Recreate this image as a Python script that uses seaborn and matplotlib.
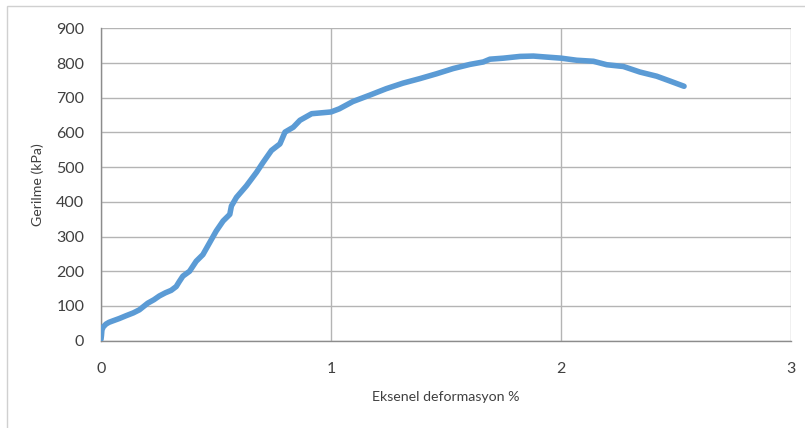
import matplotlib
matplotlib.use("Agg")
import matplotlib.pyplot as plt
from matplotlib.patches import Rectangle
import seaborn as sns
import pandas as pd

# Axial strain (%) and stress (kPa)
strain = [0.000, 0.002, 0.004, 0.010, 0.022, 0.035, 0.051, 0.080, 0.109, 0.140, 0.167, 0.203,
          0.230, 0.254, 0.280, 0.305, 0.327, 0.340, 0.356, 0.385, 0.414, 0.443, 0.472, 0.501,
          0.531, 0.560, 0.567, 0.589, 0.632, 0.676, 0.705, 0.741, 0.778, 0.800, 0.836, 0.865,
          0.916, 0.967, 1.000, 1.036, 1.095, 1.167, 1.240, 1.313, 1.386, 1.459, 1.531, 1.604,
          1.662, 1.691, 1.750, 1.822, 1.880, 1.939, 2.000, 2.068, 2.141, 2.199, 2.271, 2.343,
          2.416, 2.474, 2.535]
stress = [4, 15, 31, 40, 48, 53, 57, 64, 72, 80, 89, 108,
          118, 129, 138, 145, 156, 170, 186, 200, 229, 248, 282, 316,
          345, 364, 388, 413, 446, 485, 514, 548, 567, 601, 615, 635,
          654, 657, 659, 668, 689, 707, 726, 742, 755, 769, 784, 796,
          803, 811, 814, 819, 820, 817, 814, 808, 805, 795, 790, 774,
          762, 748, 733]

x_ticks = [0, 1, 2, 3]
y_ticks = [0, 100, 200, 300, 400, 500, 600, 700, 800, 900]
x_label = "Eksenel deformasyon %"
y_label = "Gerilme (kPa)"

sns.set_style("white")
plt.rcParams["font.family"] = ["Lato", "DejaVu Sans"]

df = pd.DataFrame({"strain": strain, "stress": stress})

fig = plt.figure(figsize=(8.05, 4.28), dpi=100)
ax = fig.add_axes([101 / 805, 1 - 340.7 / 428, 690 / 805, (340.7 - 28.3) / 428])

sns.lineplot(data=df, x="strain", y="stress", ax=ax, color="#5B9BD5",
             linewidth=4.0, solid_capstyle="round", solid_joinstyle="round",
             sort=False, zorder=3)

ax.set_xlim(0, 3)
ax.set_ylim(0, 900)
ax.set_xticks(x_ticks)
ax.set_yticks(y_ticks)
ax.set_xticklabels([str(t) for t in x_ticks])
ax.set_yticklabels([str(t) for t in y_ticks])
ax.grid(True, color="#B4B4B4", linewidth=1.0)
ax.set_axisbelow(True)

for s in ["top", "right"]:
    ax.spines[s].set_visible(False)
for s in ["left", "bottom"]:
    ax.spines[s].set_visible(True)
    ax.spines[s].set_color("#8C8C8C")
    ax.spines[s].set_linewidth(1.0)

ax.tick_params(axis="both", which="major", direction="out", length=5, width=1,
               color="#8C8C8C", labelsize=11.5, labelcolor="#404040")
ax.tick_params(axis="x", pad=10)
ax.tick_params(axis="y", pad=7)

ax.set_xlabel(x_label, fontsize=10.2, color="#404040", labelpad=11)
ax.set_ylabel(y_label, fontsize=10.2, color="#404040", labelpad=9)

fig.patches.append(Rectangle((7 / 805, -0.1), 1.2, 1.1 - 6 / 428,
                             transform=fig.transFigure, fill=False,
                             edgecolor="#D0D0D0", linewidth=1.0))

fig.savefig("out.png", dpi=100)
